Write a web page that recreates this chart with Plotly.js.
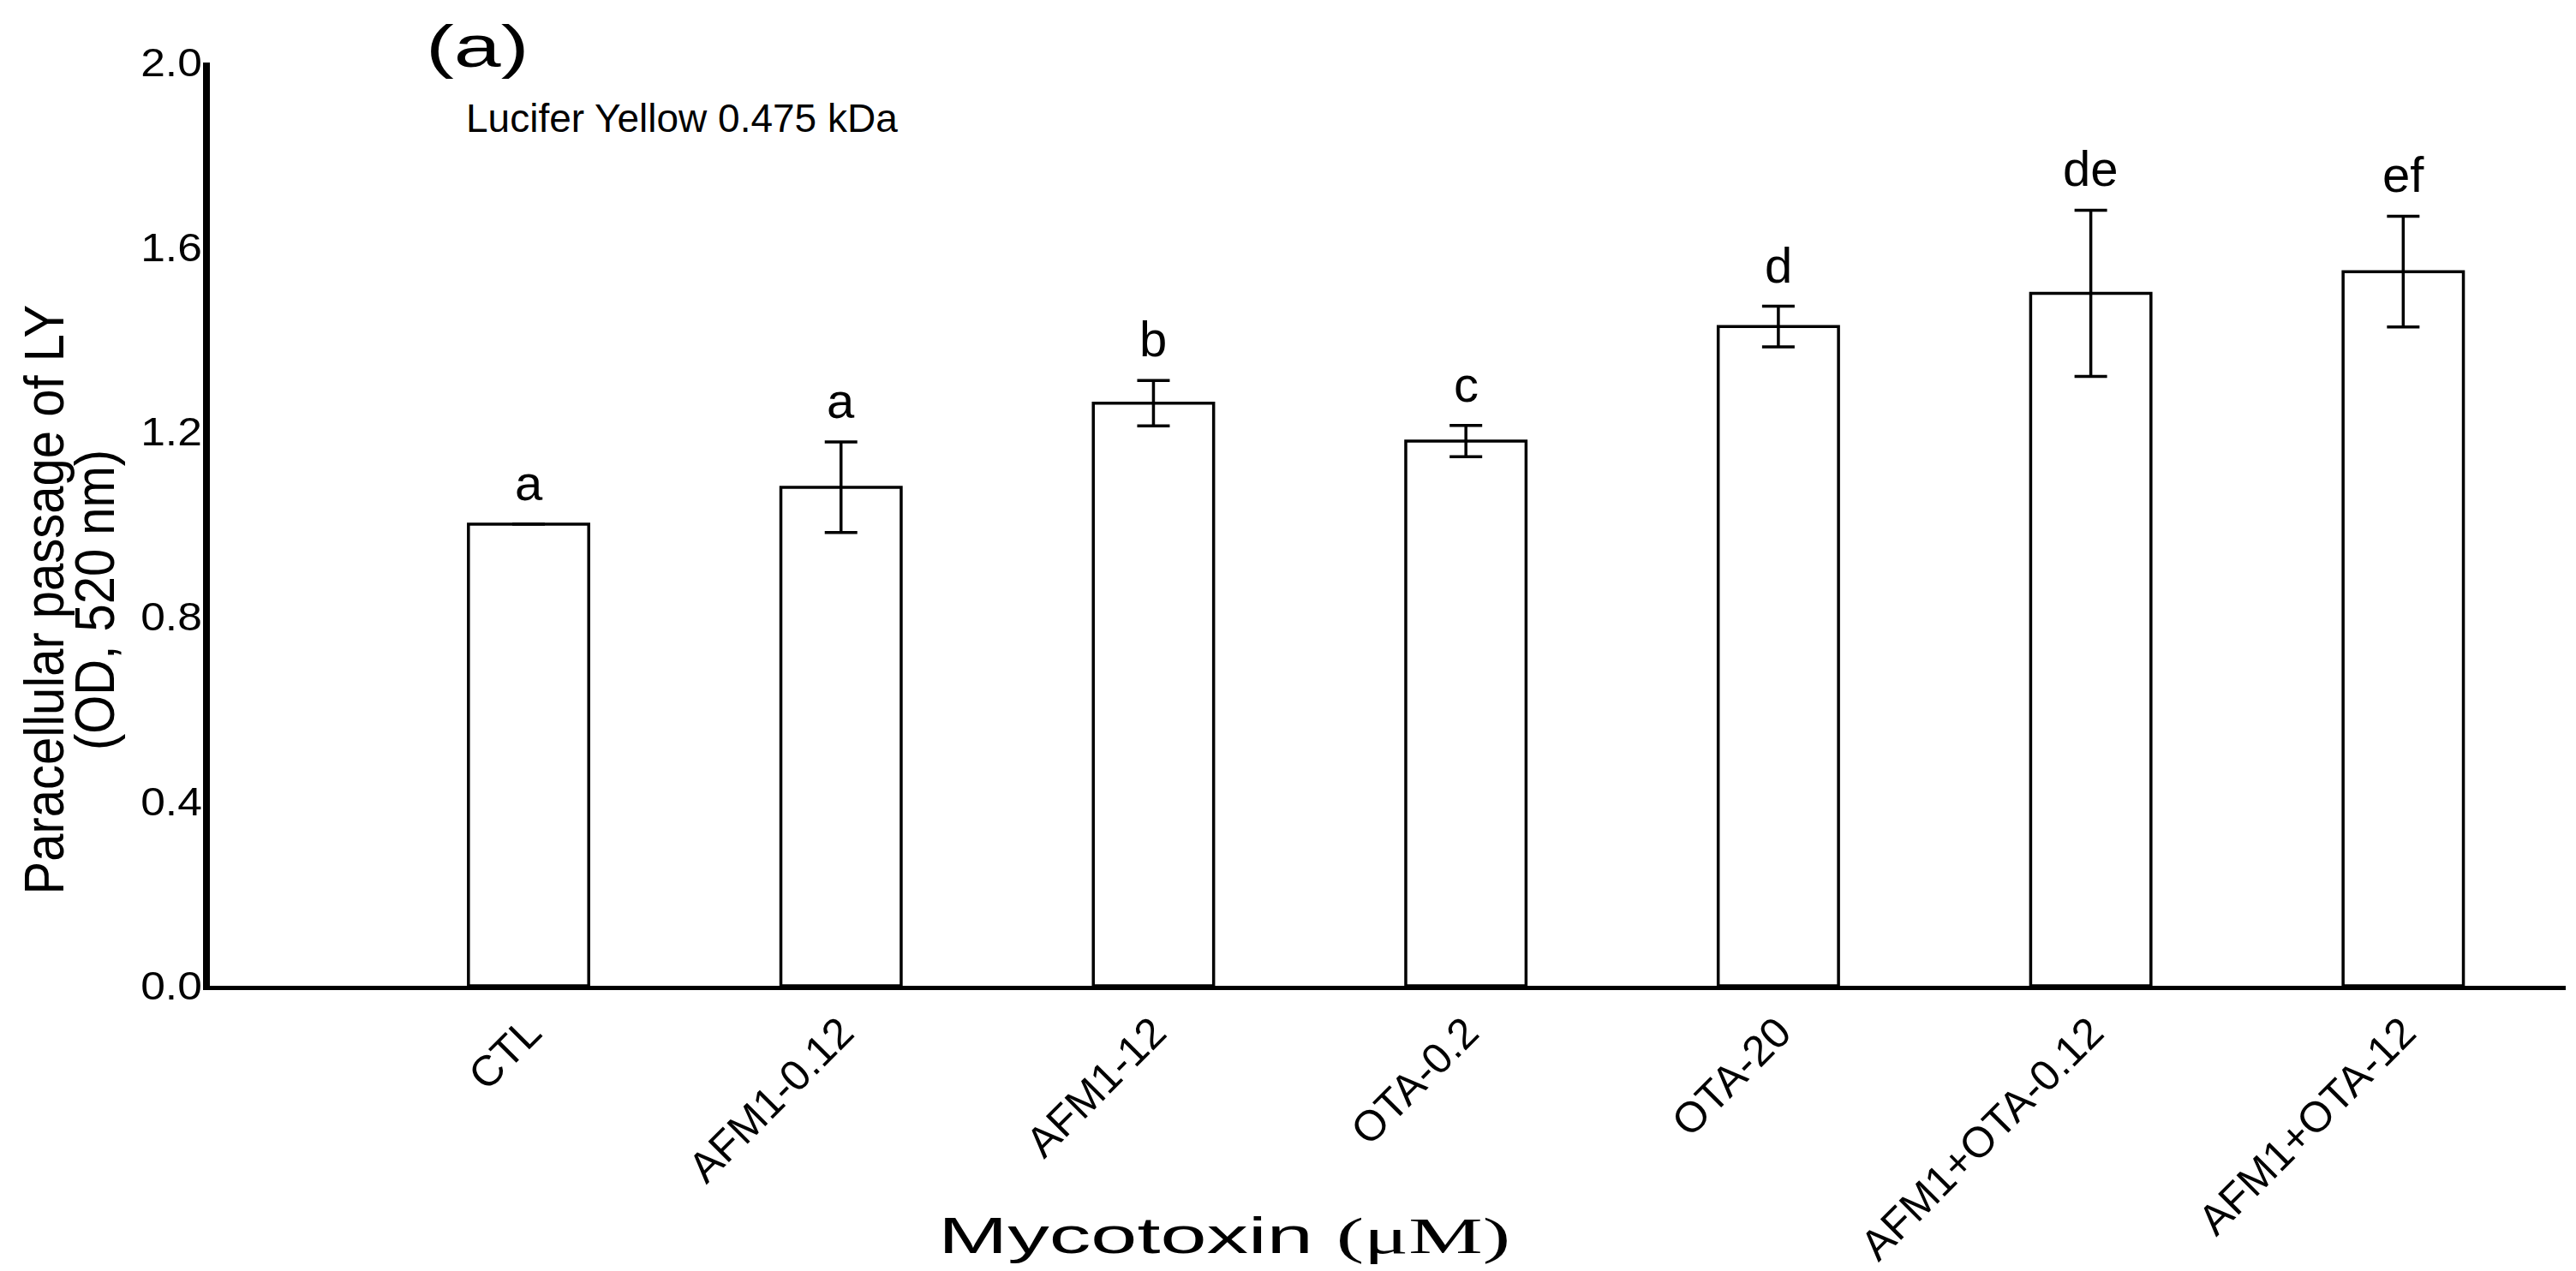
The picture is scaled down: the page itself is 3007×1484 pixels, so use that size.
<!DOCTYPE html>
<html>
<head>
<meta charset="utf-8">
<script src="https://cdn.plot.ly/plotly-3.0.1.min.js"></script>
<style>
  html, body { margin: 0; padding: 0; background: #ffffff; }
  #chart { width: 3007px; height: 1484px; }
</style>
</head>
<body>
<div id="chart"></div>
<script>
// ---- data ----
const categories = ['CTL', 'AFM1-0.12', 'AFM1-12', 'OTA-0.2', 'OTA-20', 'AFM1+OTA-0.12', 'AFM1+OTA-12'];
const means      = [1.00, 1.08, 1.262, 1.18, 1.428, 1.50, 1.547];
const errors     = [0.00, 0.098, 0.049, 0.034, 0.044, 0.18, 0.12];
const letters    = ['a', 'a', 'b', 'c', 'd', 'de', 'ef'];
const yTickVals  = [0.0, 0.4, 0.8, 1.2, 1.6, 2.0];

const panelLabel  = '(a)';
const markerText  = 'Lucifer Yellow 0.475 kDa';
const yTitleLine1 = 'Paracellular passage of LY';
const yTitleLine2 = '(OD, 520 nm)';
const xTitle = 'Mycotoxin <span style="font-family:\'Liberation Serif\', serif">(μM)</span>';

const FONT = 'Liberation Sans, Arial, sans-serif';

const trace = {
  type: 'bar',
  x: categories,
  y: means,
  width: 0.385,
  marker: { color: '#ffffff', line: { color: '#000000', width: 3.5 } },
  error_y: { type: 'data', array: errors, visible: true, color: '#000000', thickness: 3.5, width: 19 },
  hoverinfo: 'skip'
};

const letterAnnotations = categories.map((c, i) => ({
  x: c, y: means[i] + errors[i], xref: 'x', yref: 'y',
  text: letters[i], showarrow: false,
  xanchor: 'center', yanchor: 'bottom', yshift: 14,
  font: { family: FONT, size: 58, color: '#000000' }
}));

const layout = {
  width: 3007, height: 1484,
  paper_bgcolor: '#ffffff', plot_bgcolor: '#ffffff',
  margin: { l: 245, r: 12, t: 73, b: 333 },
  showlegend: false,
  xaxis: {
    type: 'category',
    range: [-1.02, 6.52],
    showline: true, linecolor: '#000000', linewidth: 5,
    showgrid: false, zeroline: false,
    ticks: '',
    tickangle: -45,
    tickfont: { family: FONT, size: 50, color: '#000000' }
  },
  yaxis: {
    range: [0, 2.0],
    showline: true, linecolor: '#000000', linewidth: 8,
    showgrid: false, zeroline: false,
    tickvals: yTickVals,
    tickformat: '.1f',
    ticks: '',
    tickfont: { family: FONT, size: 46, color: '#000000' }
  },
  annotations: letterAnnotations.concat([
    { xref: 'paper', yref: 'paper', x: 0.091, y: 1.018, xanchor: 'left', yanchor: 'middle',
      text: panelLabel, showarrow: false, font: { family: FONT, size: 68, color: '#000000' } },
    { xref: 'paper', yref: 'paper', x: 0.108, y: 0.94, xanchor: 'left', yanchor: 'middle',
      text: markerText, showarrow: false, font: { family: FONT, size: 46, color: '#000000' } },
    { xref: 'paper', yref: 'paper', x: -0.0705, y: 0.418, xanchor: 'center', yanchor: 'middle',
      text: yTitleLine1, textangle: -90, showarrow: false, font: { family: FONT, size: 58, color: '#000000' } },
    { xref: 'paper', yref: 'paper', x: -0.0492, y: 0.418, xanchor: 'center', yanchor: 'middle',
      text: yTitleLine2, textangle: -90, showarrow: false, font: { family: FONT, size: 58, color: '#000000' } },
    { xref: 'paper', yref: 'paper', x: 0.4305, y: -0.270, xanchor: 'center', yanchor: 'middle',
      text: xTitle, showarrow: false, font: { family: FONT, size: 60, color: '#000000' } }
  ])
};

// The reference figure's lettering is widened horizontally; reproduce that on the real text nodes.
function widen(el, sx, sy, anchor, dx) {
  const b = el.getBBox();
  const px = anchor === 'left' ? b.x : anchor === 'right' ? b.x + b.width : b.x + b.width / 2;
  const py = b.y + b.height / 2;
  const old = el.getAttribute('transform') || '';
  el.setAttribute('transform',
    old + ' translate(' + (dx || 0) + ',0) translate(' + px + ',' + py + ') scale(' + sx + ',' + sy + ') translate(' + (-px) + ',' + (-py) + ')');
}

Plotly.newPlot('chart', [trace], layout, { staticPlot: true, displayModeBar: false }).then(gd => {
  gd.querySelectorAll('.annotation-text').forEach(el => {
    const t = el.textContent;
    if (t.indexOf('Mycotoxin') === 0) widen(el, 1.62, 1, 'center');
    else if (t === panelLabel) widen(el, 1.45, 1, 'left');
    else if (t === yTitleLine1 || t === yTitleLine2) widen(el, 1, 1.12, 'center');
  });
  gd.querySelectorAll('.ytick text').forEach(el => widen(el, 1.12, 1, 'right', 8));
});
</script>
</body>
</html>
